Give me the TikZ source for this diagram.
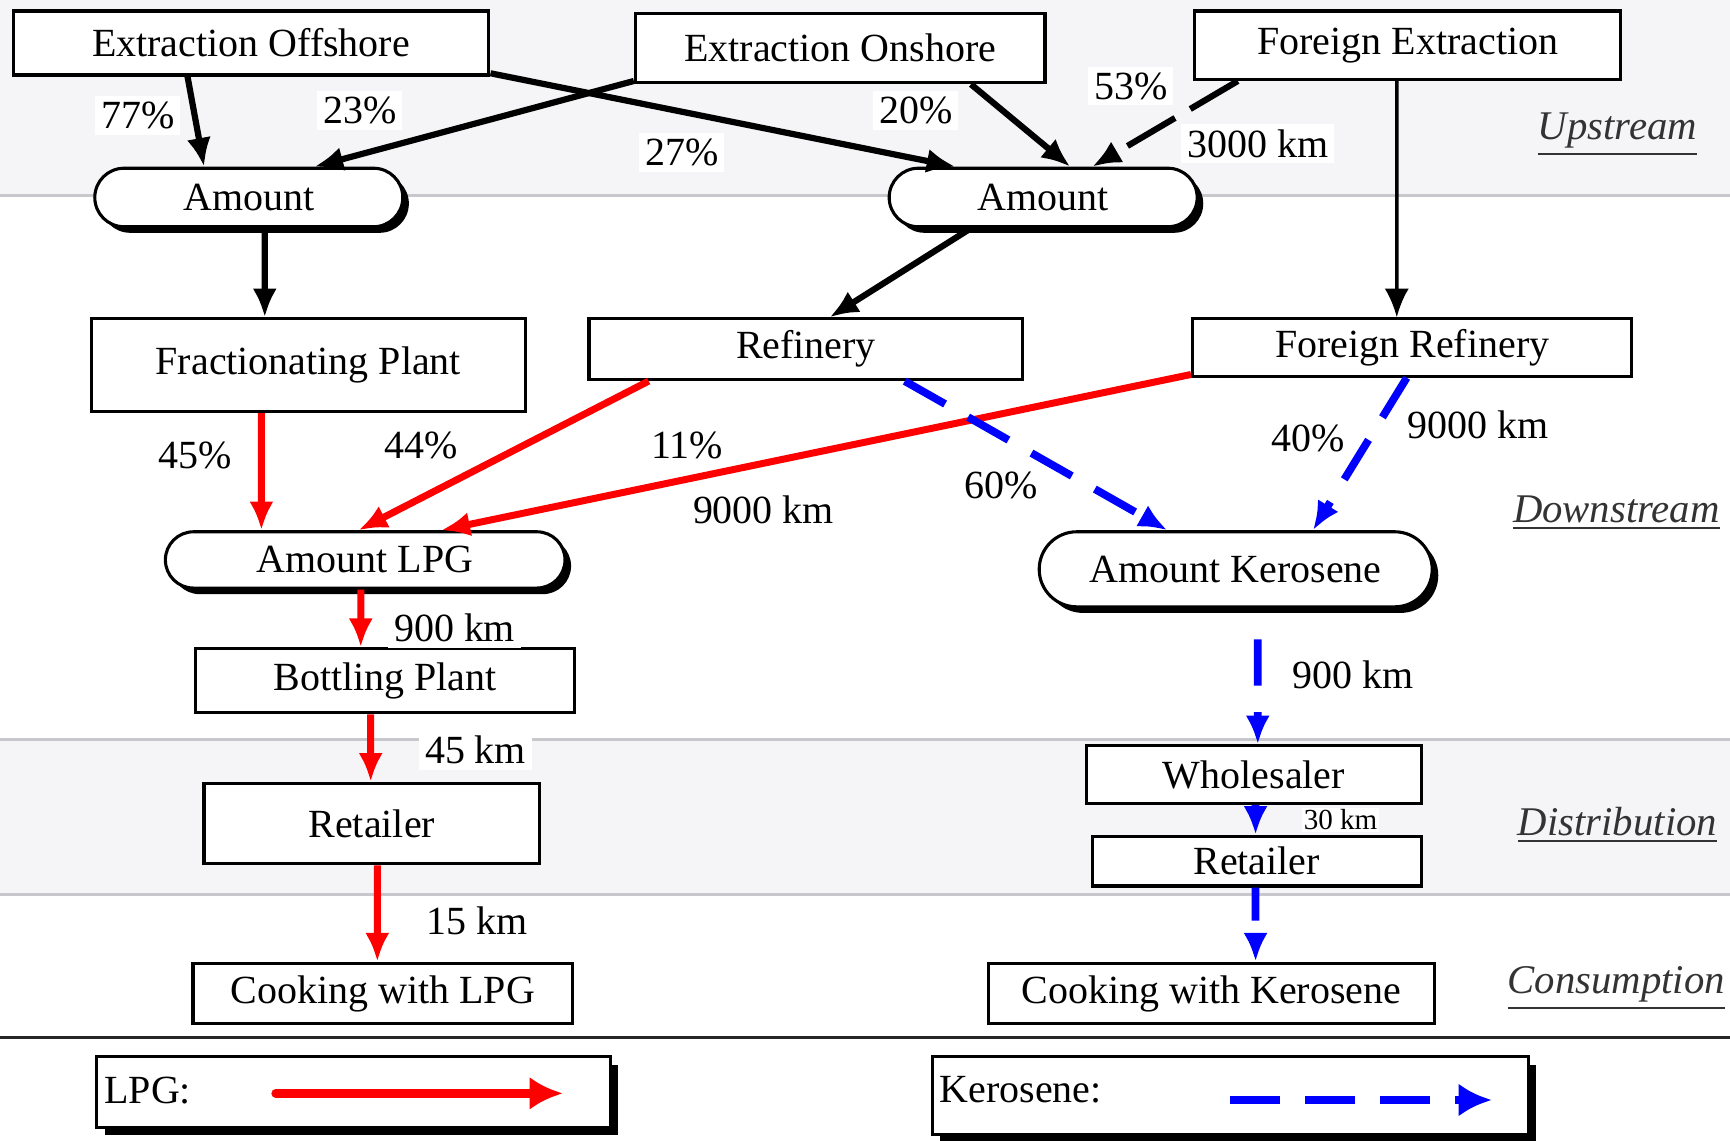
\documentclass[tikz,border=0pt]{standalone}
\usepackage{fontspec}
\setmainfont{Liberation Serif}
\usetikzlibrary{arrows.meta,shapes.misc,shadows,calc}
\definecolor{bandfill}{RGB}{245,245,248}
\definecolor{bandline}{RGB}{200,200,204}
\begin{document}
\begin{tikzpicture}[x=0.01cm,y=-0.01cm,
  box/.style={draw, line width=0.8pt, fill=white, inner sep=0pt, font=\fontsize{10.3}{12}\selectfont},
  stad/.style={rounded rectangle, draw, line width=0.8pt, fill=white, inner sep=0pt,
     font=\fontsize{10.3}{12}\selectfont,
     drop shadow={shadow xshift=0.055cm, shadow yshift=-0.055cm, fill=black, opacity=1}},
  legbox/.style={draw, line width=0.8pt, fill=white, inner sep=0pt,
     drop shadow={shadow xshift=0.07cm, shadow yshift=-0.07cm, fill=black, opacity=1}},
  lbl/.style={fill=white, inner sep=1.5pt, font=\fontsize{10.3}{12}\selectfont},
  band/.style={font=\fontsize{10.5}{12}\selectfont\itshape, text=black!80},
  tip/.style={-{Latex[length=0.26cm,width=0.22cm]}},
  blk/.style={line width=1.6pt, tip},
  blkthin/.style={line width=0.9pt, tip},
  blkdash/.style={line width=1.6pt, dash pattern=on 0.5cm off 0.16cm, tip},
  lpg/.style={red, line width=1.8pt, tip},
  ker/.style={blue, line width=2pt, dash pattern=on 0.42cm off 0.24cm, tip}
]
\useasboundingbox (0,0) rectangle (1568,1034);
% bands
\fill[bandfill] (0,0) rectangle (1568,177);
\draw[bandline, line width=0.7pt] (0,177) -- (1568,177);
\fill[bandfill] (0,670) rectangle (1568,811);
\draw[bandline, line width=0.7pt] (0,670) -- (1568,670);
\draw[bandline, line width=0.7pt] (0,811) -- (1568,811);
\draw[black!85, line width=0.8pt] (0,940) -- (1568,940);

% band labels
\node[band] (up) at (1466,122) {\underline{Upstream}};
\node[band] (down) at (1465,465) {\underline{Downstream}};
\node[band] (dist) at (1466,748) {\underline{Distribution}};
\node[band] (cons) at (1465,896) {\underline{Consumption}};

% nodes
\node[box, minimum width=4.31cm, minimum height=0.58cm] (eo) at (227.5,39) {Extraction Offshore};
\node[box, minimum width=3.71cm, minimum height=0.63cm] (eon) at (761.5,43.5) {Extraction Onshore};
\node[box, minimum width=3.86cm, minimum height=0.62cm] (fe) at (1276,41) {Foreign Extraction};
\node[stad, minimum width=2.79cm, minimum height=0.53cm] (am1) at (225.5,179) {Amount};
\node[stad, minimum width=2.79cm, minimum height=0.53cm] (am2) at (945.5,179) {Amount};
\node[box, minimum width=3.93cm, minimum height=0.84cm] (fp) at (279.5,331) {Fractionating Plant};
\node[box, minimum width=3.93cm, minimum height=0.55cm] (ref) at (730.5,316.5) {Refinery};
\node[box, minimum width=3.98cm, minimum height=0.52cm] (fr) at (1280,315) {Foreign Refinery};
\node[stad, minimum width=3.62cm, minimum height=0.51cm] (alpg) at (331,507.5) {Amount LPG};
\node[stad, minimum width=3.56cm, minimum height=0.68cm] (aker) at (1120,516) {Amount Kerosene};
\node[box, minimum width=3.44cm, minimum height=0.58cm] (bp) at (349,617) {Bottling Plant};
\node[box, minimum width=3.04cm, minimum height=0.73cm] (ret1) at (337,746.5) {Retailer};
\node[box, minimum width=3.44cm, minimum height=0.55cm] (cl) at (347,900.5) {Cooking with LPG};
\node[box, minimum width=3.03cm, minimum height=0.52cm] (wh) at (1136.5,702) {Wholesaler};
\node[box, minimum width=2.98cm, minimum height=0.45cm] (ret2) at (1139,780.5) {Retailer};
\node[box, minimum width=4.04cm, minimum height=0.55cm] (ck) at (1098,900.5) {Cooking with Kerosene};

% legend
\node[legbox, minimum width=4.65cm, minimum height=0.64cm] (leg1) at (320.5,990) {};
\node[legbox, minimum width=5.40cm, minimum height=0.70cm] (leg2) at (1115,993) {};
\node[anchor=west, inner sep=0pt, font=\fontsize{10.3}{12}\selectfont] (leg1t) at (94,988) {LPG:};
\node[anchor=west, inner sep=0pt, font=\fontsize{10.3}{12}\selectfont] (leg2t) at (851,988) {Kerosene:};
\coordinate (lpgA) at (250,991);
\coordinate (lpgB) at (510,991);
\coordinate (kerA) at (1115,997);
\coordinate (kerB) at (1352,997);

% labels
\node[lbl] (l77) at (125,105) {77\%};
\node[lbl] (l23) at (326,100) {23\%};
\node[lbl] (l27) at (618,138) {27\%};
\node[lbl] (l20) at (830,100) {20\%};
\node[lbl] (l53) at (1025,78) {53\%};
\node[lbl] (l3000) at (1140,130) {3000 km};
\node[lbl] (l45) at (177,413) {45\%};
\node[lbl] (l44) at (382,404) {44\%};
\node[lbl] (l11) at (623,404) {11\%};
\node[lbl] (l9000a) at (692,462) {9000 km};
\node[lbl] (l60) at (907,440) {60\%};
\node[lbl] (l40) at (1186,397) {40\%};
\node[lbl] (l9000b) at (1340,385) {9000 km};
\node[lbl] (l900a) at (412,569) {900 km};
\node[lbl] (l45km) at (431,680) {45 km};
\node[lbl] (l15km) at (432,835) {15 km};
\node[lbl] (l900b) at (1226,612) {900 km};
\node[lbl, inner sep=0.5pt, font=\fontsize{7.5}{9}\selectfont] (l30km) at (1215,743) {30 km};

% black connectors
\draw[blk] ([xshift=-0.575cm]eo.south) -- ([xshift=-0.405cm]am1.north);
\draw[blk] ([yshift=0.03cm]eon.south west) -- ([xshift=0.595cm]am1.north);
\draw[blk] ([yshift=0.03cm]eo.south east) -- ([xshift=-0.795cm]am2.north);
\draw[blk] ([xshift=1.185cm]eon.south) -- ([xshift=0.245cm]am2.north);
\draw[blkdash] ([xshift=-1.54cm]fe.south) -- ([xshift=0.445cm]am2.north);
\draw[blk] ([xshift=0.145cm]am1.south) -- ([xshift=-0.395cm]fp.north);
\draw[blk] ([xshift=-0.655cm]am2.south) -- ([xshift=0.215cm]ref.north);
\draw[blkthin] ([xshift=-0.10cm]fe.south) -- ([xshift=-0.14cm]fr.north);

% LPG connectors
\draw[lpg] ([xshift=-0.425cm]fp.south) -- ([xshift=-0.94cm]alpg.north);
\draw[lpg] ([xshift=-1.425cm]ref.south) -- ([xshift=-0.06cm]alpg.north);
\draw[lpg] ([yshift=0.03cm]fr.south west) -- ([xshift=0.69cm]alpg.north);
\draw[lpg] ([xshift=-0.04cm]alpg.south) -- ([xshift=-0.22cm]bp.north);
\draw[lpg] ([xshift=-0.13cm]bp.south) -- ([xshift=-0.01cm]ret1.north);
\draw[lpg] ([xshift=0.05cm]ret1.south) -- ([xshift=-0.05cm]cl.north);
\draw[lpg, line width=2.3pt, line cap=round, -{Latex[length=0.3cm,width=0.3cm]}] (lpgA) -- (lpgB);

% Kerosene connectors
\draw[ker] ([xshift=0.895cm]ref.south) -- ([xshift=-0.62cm]aker.north);
\draw[ker] ([xshift=-0.05cm]fr.south) -- ([xshift=0.70cm]aker.north);
\draw[ker] ([xshift=0.20cm,yshift=-0.28cm]aker.south) -- ([xshift=0.035cm]wh.north);
\draw[ker] ([xshift=0.015cm]wh.south) -- ([xshift=-0.01cm]ret2.north);
\draw[ker, dash pattern=on 0.3cm off 0.18cm] ([xshift=-0.01cm]ret2.south) -- ([xshift=0.40cm]ck.north);
\draw[ker, line width=2.3pt, dash pattern=on 0.45cm off 0.23cm, -{Latex[length=0.3cm,width=0.3cm]}] (kerA) -- (kerB);
\end{tikzpicture}
\end{document}
